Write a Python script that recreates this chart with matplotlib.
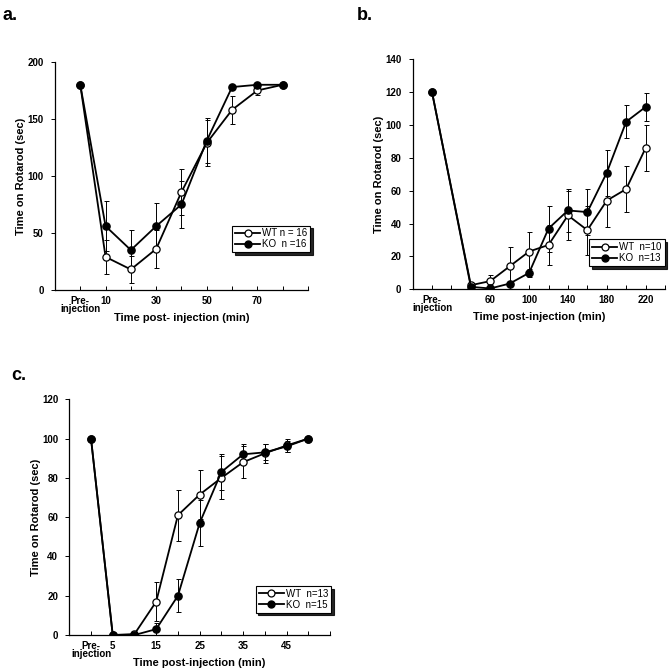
import matplotlib
matplotlib.use("Agg")
import matplotlib.pyplot as plt
import numpy as np

plt.rcParams['font.family'] = ['Liberation Sans', 'DejaVu Sans']
plt.rcParams['font.weight'] = 'bold'

# ---------- Panel a ----------
a_x = [0, 10, 20, 30, 40, 50, 60, 70, 80]
a_wt = [180, 29, 18, 36, 86, 129, 158, 175, 180]
a_wt_err = [0, 15, 12, 17, 20, 20, 12, 4, 0]
a_ko = [180, 56, 35, 56, 75, 131, 178, 180, 180]
a_ko_err = [0, 22, 18, 20, 21, 20, 0, 0, 0]
a_xticks = [0, 10, 20, 30, 40, 50, 60, 70, 80, 90]
a_xlabels = ["Pre-\ninjection", "10", "", "30", "", "50", "", "70", "", ""]
a_yticks = [0, 50, 100, 150, 200]
a_legend = ["WT n = 16", "KO  n =16"]

# ---------- Panel b ----------
b_x = [0, 40, 60, 80, 100, 120, 140, 160, 180, 200, 220]
b_wt = [120, 2.5, 5, 14, 23, 27, 45, 36, 54, 61, 86]
b_wt_err = [0, 0, 3.5, 12, 12, 12, 15, 15, 16, 14, 14]
b_ko = [120, 1.5, 0.5, 3.5, 10, 37, 48, 47, 71, 102, 111]
b_ko_err = [0, 0, 0, 0, 2.5, 14, 13, 14, 14, 10, 8.5]
b_xticks = [0, 20, 40, 60, 80, 100, 120, 140, 160, 180, 200, 220, 240]
b_xlabels = ["Pre-\ninjection", "", "", "60", "", "100", "", "140", "", "180", "", "220", ""]
b_yticks = [0, 20, 40, 60, 80, 100, 120, 140]
b_legend = ["WT  n=10", "KO  n=13"]

# ---------- Panel c ----------
c_x = [0, 5, 10, 15, 20, 25, 30, 35, 40, 45, 50]
c_wt = [100, 0, 0.5, 17, 61, 71.5, 80, 88, 92.5, 96.5, 100]
c_wt_err = [0, 0, 0, 10, 13, 12.5, 11, 8, 5, 3.5, 0]
c_ko = [100, 0, 0, 3, 20, 57, 83, 92, 93, 96, 100]
c_ko_err = [0, 0, 0, 3, 8.5, 11.5, 9, 5, 4, 3, 0]
c_xticks = [0, 5, 10, 15, 20, 25, 30, 35, 40, 45, 50, 55]
c_xlabels = ["Pre-\ninjection", "5", "", "15", "", "25", "", "35", "", "45", "", ""]
c_yticks = [0, 20, 40, 60, 80, 100, 120]
c_legend = ["WT  n=13", "KO  n=15"]

fig = plt.figure(figsize=(6.72, 6.70), dpi=100)


def panel(rect, x, wt, wte, ko, koe, xlim, ylim, xticks, xlabels, yticks,
          xlabel, legend_labels, legend_bbox, letter, letter_pos):
    ax = fig.add_axes(rect)
    lw = 1.3
    ax.errorbar(x, wt, yerr=wte, fmt='none', ecolor='black', elinewidth=0.7,
                capsize=1.8, capthick=0.7, zorder=2)
    ax.errorbar(x, ko, yerr=koe, fmt='none', ecolor='black', elinewidth=0.7,
                capsize=1.8, capthick=0.7, zorder=2)
    l1, = ax.plot(x, wt, '-o', color='black', lw=lw, ms=5.2,
                  markerfacecolor='white', markeredgecolor='black', mew=0.9, zorder=3)
    l2, = ax.plot(x, ko, '-o', color='black', lw=lw, ms=5.2,
                  markerfacecolor='black', markeredgecolor='black', zorder=4)
    ax.set_xlim(*xlim)
    ax.set_ylim(*ylim)
    for s in ['top', 'right']:
        ax.spines[s].set_visible(False)
    for s in ['left', 'bottom']:
        ax.spines[s].set_linewidth(0.9)
    ax.set_xticks(xticks)
    ax.set_xticklabels(xlabels, fontsize=7, fontweight='bold', linespacing=0.8)
    ax.set_yticks(yticks)
    ax.set_yticklabels([str(v) for v in yticks], fontsize=7, fontweight='bold')
    ax.tick_params(axis='x', direction='in', length=3, width=0.7, pad=4)
    ax.tick_params(axis='y', direction='out', length=3, width=0.7, pad=5)
    ax.set_xlabel(xlabel, fontsize=8, fontweight='bold', labelpad=-1)
    ax.set_ylabel("Time on Rotarod (sec)", fontsize=8, fontweight='bold', labelpad=1)
    leg = ax.legend([l1, l2], legend_labels, loc='lower left',
                    bbox_to_anchor=legend_bbox,
                    prop={'size': 7, 'weight': 'normal'}, frameon=True,
                    fancybox=False, shadow={'color': 'black', 'alpha': 0.85, 'ox': 2, 'oy': -2},
                    edgecolor='black', handlelength=2.6, handletextpad=0.2,
                    borderpad=0.3, labelspacing=0.1, borderaxespad=0)
    leg.get_frame().set_linewidth(0.8)
    for h in leg.legend_handles:
        h.set_markersize(5.0)
    fig.text(letter_pos[0], letter_pos[1], letter, fontsize=13, fontweight='bold',
             ha='left', va='top')
    return ax


panel([0.0818, 0.5672, 0.3765, 0.3403], a_x, a_wt, a_wt_err, a_ko, a_ko_err,
      (-10, 90), (0, 200), a_xticks, a_xlabels, a_yticks,
      "Time post- injection (min)", a_legend, (0.70, 0.165), "a.", (0.004, 0.99))

panel([0.6140, 0.5682, 0.3756, 0.3433], b_x, b_wt, b_wt_err, b_ko, b_ko_err,
      (-20, 240), (0, 140), b_xticks, b_xlabels, b_yticks,
      "Time post-injection (min)", b_legend, (0.70, 0.10), "b.", (0.531, 0.99))

panel([0.1031, 0.0522, 0.3880, 0.3518], c_x, c_wt, c_wt_err, c_ko, c_ko_err,
      (-5, 55), (0, 120), c_xticks, c_xlabels, c_yticks,
      "Time post-injection (min)", c_legend, (0.715, 0.095), "c.", (0.016, 0.452))

fig.savefig("out.png", dpi=100)
